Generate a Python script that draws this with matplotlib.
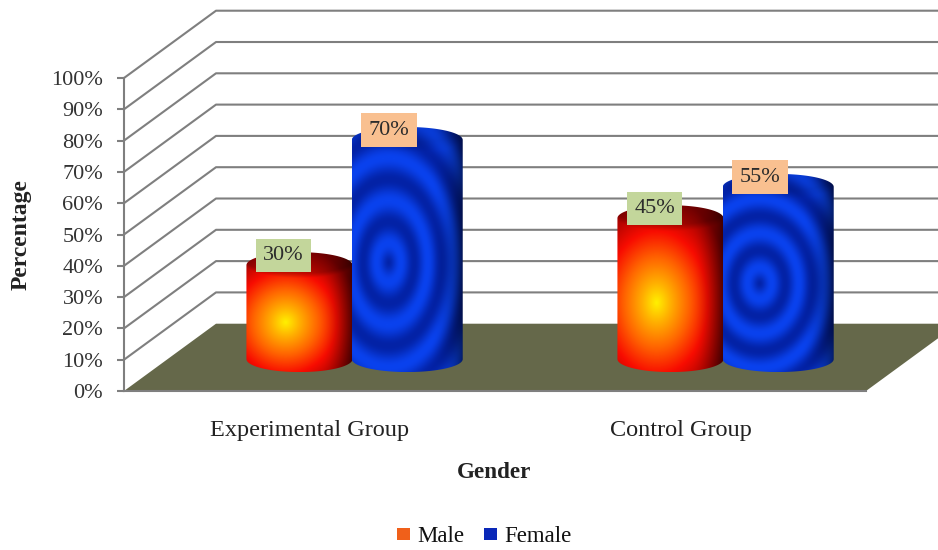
import numpy as np
import matplotlib
matplotlib.use('Agg')
import matplotlib.pyplot as plt
from matplotlib.path import Path
from matplotlib.patches import Polygon, Patch
from matplotlib.colors import LinearSegmentedColormap

plt.rcParams['font.family'] = ['Liberation Serif', 'DejaVu Serif']

categories = ['Experimental Group', 'Control Group']
male = [30, 45]
female = [70, 55]
series_names = ['Male', 'Female']
yticks = [0, 10, 20, 30, 40, 50, 60, 70, 80, 90, 100]
ytick_labels = ['0%', '10%', '20%', '30%', '40%', '50%', '60%', '70%', '80%', '90%', '100%']

W, H = 938, 550
GRID = '#7f7f7f'
FLOOR = '#65684a'

#profondeur 3D, en unités de données
depth_x, depth_y = 0.248, 21.5
bar_x, bar_y = 0.116, 10.2
ell = 4.15
male_w, female_w = 0.286, 0.299

fire = LinearSegmentedColormap.from_list('fire', [(0, '#fff000'), (0.18, '#ffb000'), (0.42, '#ff6200'),
                                                  (0.66, '#f80c00'), (1, '#8c0000')])
rings = LinearSegmentedColormap.from_list('rings', ['#0322a6', '#0a42ee'])

fig = plt.figure(figsize=(W/100, H/100), dpi=100)
ax = fig.add_axes([124/W, 1-391/H, 742/W, 313/H])
ax.patch.set_alpha(0)

def texture(kind, h_data):
    #h_data: hauteur totale de la silhouette, pour placer le bord haut
    u, v = np.meshgrid(np.linspace(0, 1, 240), np.linspace(0, 1, 400))
    if kind == 'male':
        t = np.hypot((u-0.37)/0.47, (v-0.585)/0.42)
        img = fire(np.clip(t/1.55, 0, 1))[:, :, :3]
        rim = 0.78
    else:
        t = np.hypot((u-0.33)/0.243, (v-0.555)/0.174)
        img = rings(0.5+0.5*np.cos(2*np.pi*(t-0.45)))[:, :, :3]
        rim = 0.9
    #assombrissement du bord droit et du dessus du cylindre
    shade = 1-0.55*np.clip((u-0.7)/0.3, 0, 1)**2
    arc = (ell+ell*np.sqrt(np.clip(1-(2*u-1)**2, 0, 1)))/h_data
    top = np.clip((v-arc)/0.04+1, 0, 1)
    shade = shade*(rim+(1-rim)*top)
    return img*shade[:, :, None]

def cylinder(x0, width, value, kind):
    y0 = bar_y
    y1 = value+bar_y
    cx = x0+width/2
    a = np.linspace(np.pi, 0, 80)
    top_x = cx+width/2*np.cos(a)
    top_y = y1+ell*np.sin(a)
    bot_x = cx+width/2*np.cos(a[::-1])
    bot_y = y0-ell*np.sin(a[::-1])
    verts = np.column_stack([np.r_[top_x, bot_x], np.r_[top_y, bot_y]])
    extent = [x0, x0+width, y0-ell, y1+ell]
    im = ax.imshow(texture(kind, extent[3]-extent[2]), extent=extent, aspect='auto', origin='upper',
                   interpolation='bilinear', zorder=3)
    im.set_clip_path(Path(np.vstack([verts, verts[:1]]), closed=True), transform=ax.transData)
    return cx, y1

#grille : mur gauche + mur du fond
for v in yticks[1:]:
    ax.plot([0, depth_x, 2+depth_x], [v, v+depth_y, v+depth_y], color=GRID, lw=1.5, clip_on=False, zorder=1)

ax.add_patch(Polygon([[0, 0], [2, 0], [2+depth_x, depth_y], [depth_x, depth_y]], closed=True,
                     facecolor=FLOOR, edgecolor='none', clip_on=False, zorder=2))

labels = []
for i, cat in enumerate(categories):
    c = i+0.5+bar_x
    cx, top = cylinder(c-male_w, male_w, male[i], 'male')
    labels.append((cx, top, male[i], '#c3d69b', -11.5))
    cx, top = cylinder(c-0.002, female_w, female[i], 'female')
    labels.append((cx, top, female[i], '#f9c090', -13))

for cx, top, val, col, off in labels:
    ax.annotate(str(val)+'%', xy=(cx, top), xytext=(off, 7), textcoords='offset points', ha='center',
                va='center', fontsize=16, color='#2c2c2c', zorder=5,
                bbox=dict(boxstyle='square,pad=0.33', facecolor=col, edgecolor='none'))

ax.set_xlim(0, 2)
ax.set_ylim(0, 100)
ax.set_yticks(yticks)
ax.set_yticklabels(ytick_labels, fontsize=16, color='#333333')
ax.set_xticks([0.5, 1.5])
ax.set_xticklabels(categories, fontsize=17.5, color='#222222')
ax.tick_params(axis='y', length=5, width=1.5, color=GRID, pad=10)
ax.tick_params(axis='x', length=0, pad=21)
for s in ['top', 'right']:
    ax.spines[s].set_visible(False)
for s in ['left', 'bottom']:
    ax.spines[s].set_color(GRID)
    ax.spines[s].set_linewidth(1.5)
    ax.spines[s].set_zorder(2.5)

fig.text(21/W, 1-235/H, 'Percentage', rotation=90, ha='center', va='center', fontsize=17, fontweight='bold',
         color='#222222')
fig.text(494/W, 1-473/H, 'Gender', ha='center', va='center', fontsize=16.7, fontweight='bold', color='#222222')

handles = [Patch(facecolor='#f0601a', edgecolor='none'), Patch(facecolor='#0a28b8', edgecolor='none')]
fig.legend(handles, series_names, ncol=2, loc='center', bbox_to_anchor=(484/W, 1-537/H), frameon=False,
           fontsize=16.5, handlelength=0.6, handleheight=0.42, handletextpad=0.3, columnspacing=0.85,
           labelcolor='#111111')

fig.savefig('out.png', dpi=100)
